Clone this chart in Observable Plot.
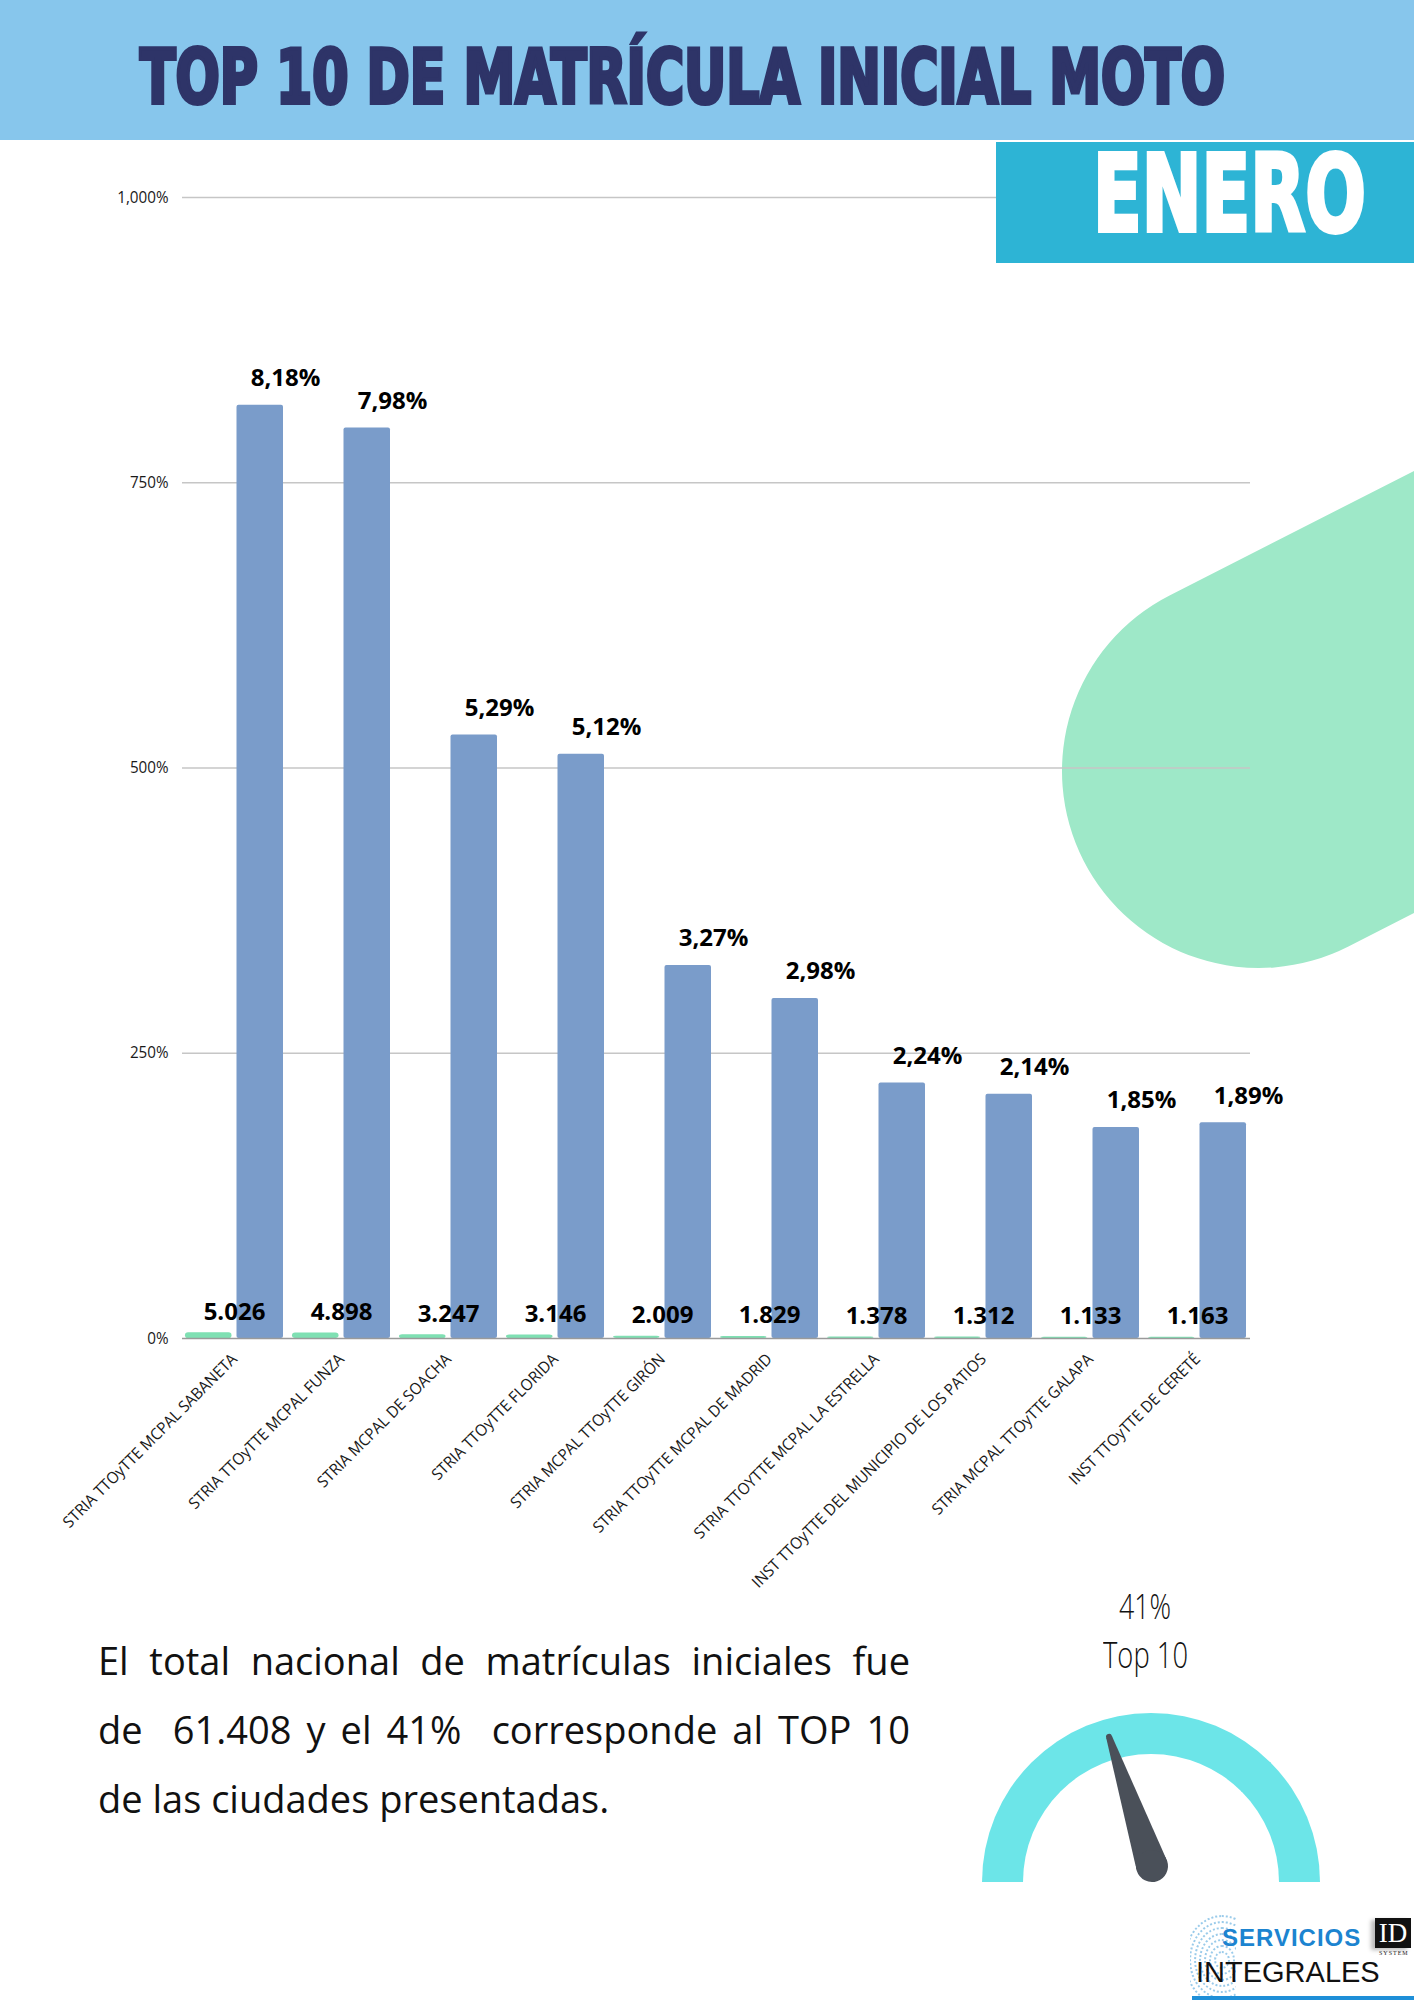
<!DOCTYPE html>
<html><head><meta charset="utf-8">
<script src="https://cdn.jsdelivr.net/npm/d3@7"></script>
<script src="https://cdn.jsdelivr.net/npm/@observablehq/plot@0.6"></script>
<style>
html,body{margin:0;padding:0;background:#fff;}
#page{position:relative;width:1414px;height:2000px;overflow:hidden;background:#fff;font-family:"Open Sans",sans-serif;}
.abs{position:absolute;}
#header{left:0;top:0;width:1414px;height:140px;background:#87C6EC;z-index:3;}
#title{left:140px;top:40px;font-weight:bold;font-size:75px;line-height:75px;font-family:"DejaVu Sans Condensed","DejaVu Sans",sans-serif;color:#2E3468;-webkit-text-stroke:4px #2E3468;white-space:nowrap;transform-origin:0 0;z-index:4;}
#enerobox{left:996px;top:142px;width:418px;height:121px;background:#2DB4D5;z-index:3;}
#enero{left:1093px;top:141px;font-weight:bold;font-size:107px;line-height:107px;font-family:"DejaVu Sans Condensed","DejaVu Sans",sans-serif;color:#fff;-webkit-text-stroke:4px #fff;white-space:nowrap;transform-origin:0 0;z-index:4;}
#blob{left:1062px;top:574px;width:900px;height:394px;border-radius:197px;background:#9EE8C8;transform-origin:197px 197px;transform:rotate(-27deg);z-index:0;}
#chart{left:0;top:150px;z-index:1;}
#chart svg{overflow:visible;}
#para{left:98px;top:1626px;width:812px;font-size:38px;line-height:69px;color:#111;font-family:"Open Sans",sans-serif;z-index:2;}
#para .ln{text-align:justify;text-align-last:justify;}
#para .last{text-align:left;text-align-last:left;}
.gtxt{font-family:"Open Sans",sans-serif;font-weight:300;color:#111;white-space:nowrap;transform-origin:0 0;z-index:2;}
#ring{left:982px;top:1713px;width:338px;height:169px;box-sizing:border-box;border:41px solid #6CE5E8;border-bottom:none;border-radius:169px 169px 0 0;z-index:2;}
#needle{left:1136px;top:1714px;width:32px;height:168px;transform-origin:16px 152px;transform:rotate(-18.4deg);z-index:3;}
#needle .body{position:absolute;left:0;top:0;width:32px;height:152px;background:#4A5059;clip-path:polygon(13px 16px,19px 16px,32px 152px,0 152px);}
#needle .base{position:absolute;left:0;top:136px;width:32px;height:32px;border-radius:50%;background:#4A5059;}
#needle .tip{position:absolute;left:13px;top:13px;width:6px;height:6px;border-radius:50%;background:#4A5059;}
#finger{left:1190px;top:1912px;width:46px;height:84px;overflow:hidden;z-index:2;}
#finger div{position:absolute;border:2px dotted #9ACBEA;border-radius:50%;}
#servicios{left:1222px;top:1926px;font-family:"Liberation Sans",Arial,sans-serif;font-weight:bold;font-size:24px;line-height:24px;letter-spacing:1px;color:#1C84D0;white-space:nowrap;z-index:3;}
#idbox{left:1375px;top:1918px;width:36px;height:30px;background:#111;color:#fff;font-family:"Liberation Serif",serif;font-size:27px;line-height:31px;text-align:center;z-index:3;box-shadow:-4px 2px 4px #bbb;}
#system{left:1379px;top:1950px;font-family:"Liberation Serif",serif;font-size:6px;line-height:6px;letter-spacing:1px;color:#222;z-index:3;}
#integrales{left:1196px;top:1958px;font-family:"Liberation Sans",Arial,sans-serif;font-size:29px;line-height:29px;color:#111;white-space:nowrap;z-index:3;}
#bline{left:1192px;top:1996px;width:222px;height:4px;background:#1E8FD8;z-index:3;}
</style>
</head>
<body>
<div id="page">
  <div id="blob" class="abs"></div>
  <div id="chart" class="abs"></div>
  <div id="header" class="abs"></div>
  <div id="title" class="abs">TOP 10 DE MATRÍCULA INICIAL MOTO</div>
  <div id="enerobox" class="abs"></div>
  <div id="enero" class="abs">ENERO</div>
  <div id="para" class="abs">
    <div class="ln">El total nacional de matrículas iniciales fue</div>
    <div class="ln">de&nbsp; 61.408 y el 41%&nbsp; corresponde al TOP 10</div>
    <div class="ln last">de las ciudades presentadas.</div>
  </div>
  <div id="g41" class="abs gtxt" style="top:1589px;font-size:34px;line-height:34px;">41%</div>
  <div id="gtop" class="abs gtxt" style="top:1637px;font-size:36px;line-height:36px;">Top 10</div>
  <div id="ring" class="abs"></div>
  <div id="needle" class="abs"><div class="body"></div><div class="base"></div><div class="tip"></div></div>
  <div id="finger" class="abs"></div>
  <div id="servicios" class="abs">SERVICIOS</div>
  <div id="idbox" class="abs">ID</div>
  <div id="system" class="abs">SYSTEM</div>
  <div id="integrales" class="abs">INTEGRALES</div>
  <div id="bline" class="abs"></div>
</div>
<script>
// ---- data ----
const categories = [
  "STRIA TTOyTTE MCPAL SABANETA",
  "STRIA TTOyTTE MCPAL FUNZA",
  "STRIA MCPAL DE SOACHA",
  "STRIA TTOyTTE FLORIDA",
  "STRIA MCPAL TTOyTTE GIRÓN",
  "STRIA TTOyTTE MCPAL DE MADRID",
  "STRIA TTOYTTE MCPAL LA ESTRELLA",
  "INST TTOyTTE DEL MUNICIPIO DE LOS PATIOS",
  "STRIA MCPAL TTOyTTE GALAPA",
  "INST TTOyTTE DE CERETÉ"
];
const sharePct = [8.18, 7.98, 5.29, 5.12, 3.27, 2.98, 2.24, 2.14, 1.85, 1.89];
const counts = [5026, 4898, 3247, 3146, 2009, 1829, 1378, 1312, 1133, 1163];
const yTicks = [0, 250, 500, 750, 1000];

const es = d3.formatLocale({decimal: ",", thousands: ".", grouping: [3], currency: ["$", ""]});
const fmtCount = es.format(",d");
const fmtPct = v => es.format(".2f")(v) + "%";
const fmtTick = d => d3.format(",")(d) + "%";

const countRows = categories.map((c, i) => ({cat: c, v: counts[i] / 1000, label: fmtCount(counts[i])}));
const pctRows = categories.map((c, i) => ({cat: c, v: sharePct[i] * 100, label: fmtPct(sharePct[i])}));

const chart = Plot.plot({
  width: 1414, height: 1450,
  marginTop: 47, marginBottom: 262, marginLeft: 182, marginRight: 164,
  style: {background: "transparent", fontFamily: "'Open Sans', sans-serif", fontSize: "16px", color: "#1a1a1a"},
  x: {domain: categories, paddingInner: 0.08, paddingOuter: 0, label: null, tickSize: 0, tickPadding: 18, tickRotate: -45},
  y: {domain: [0, 1000], ticks: yTicks, tickFormat: fmtTick, tickSize: 0, tickPadding: 14, label: null},
  marks: [
    Plot.ruleY(yTicks.slice(1), {stroke: "#c6c6c6", strokeWidth: 1.5}),
    Plot.barY(countRows, {x: "cat", y: "v", fill: "#7FE0B3", insetRight: 51.5, rx: 3}),
    Plot.barY(pctRows, {x: "cat", y: "v", fill: "#7A9CCA", insetLeft: 51.5, rx: 2}),
    Plot.ruleY([0], {stroke: "#9a9a9a", strokeWidth: 1.5}),
    Plot.text(countRows, {x: "cat", y: "v", text: "label", lineAnchor: "bottom", dy: -13, fontSize: 24, fontWeight: "bold", fill: "#000"}),
    Plot.text(pctRows, {x: "cat", y: "v", text: "label", lineAnchor: "bottom", dx: 51, dy: -19, fontSize: 24, fontWeight: "bold", fill: "#000"})
  ]
});
document.getElementById("chart").appendChild(chart);

// condense axis tick labels slightly
chart.querySelectorAll('g[aria-label*="axis"] text').forEach(t => {
  const L = t.getComputedTextLength();
  t.setAttribute("textLength", (L * 0.95).toFixed(1));
  t.setAttribute("lengthAdjust", "spacingAndGlyphs");
});

// fit headline texts to their target widths
function fitX(id, target) {
  const el = document.getElementById(id);
  const w = el.getBoundingClientRect().width;
  el.style.transform = `scaleX(${target / w})`;
}
fitX("title", 1085);
fitX("enero", 273);
function centerFit(id, cx, target) {
  const el = document.getElementById(id);
  const w = el.getBoundingClientRect().width;
  el.style.transform = `scaleX(${target / w})`;
  el.style.left = (cx - target / 2) + "px";
}
centerFit("g41", 1145, 52);
centerFit("gtop", 1145, 85);

// fingerprint decoration
const fp = document.getElementById("finger");
[6, 11, 16, 21, 26, 31, 36].forEach(r => {
  const d = document.createElement("div");
  d.style.left = (30 - r) + "px"; d.style.top = (46 - r * 1.2) + "px";
  d.style.width = (2 * r) + "px"; d.style.height = (2.4 * r) + "px";
  fp.appendChild(d);
});
</script>
</body></html>
